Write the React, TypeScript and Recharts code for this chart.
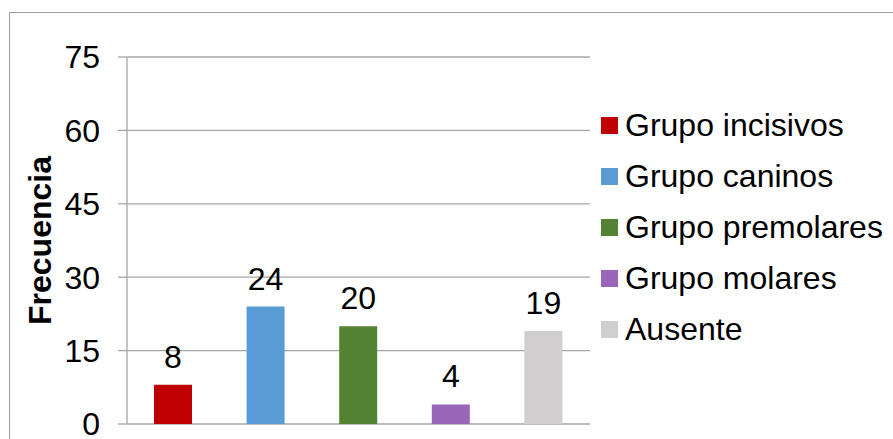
import React from 'react';
import { BarChart, Bar, XAxis, YAxis, CartesianGrid, Cell, LabelList, Legend } from 'recharts';

const categories = ['Grupo incisivos', 'Grupo caninos', 'Grupo premolares', 'Grupo molares', 'Ausente'];
const frecuencias = [8, 24, 20, 4, 19];
const colors = ['#C00000', '#5B9BD5', '#548235', '#9966BB', '#D0CECE'];
const yTicks = [0, 15, 30, 45, 60, 75];

const data = categories.map((name, i) => ({ name, value: frecuencias[i] }));

const FONT = '"Liberation Sans", Arial, sans-serif';
const FS = 32;
const GRID = '#a6a6a6';

const renderLegend = () => (
  <div style={{ fontFamily: FONT, fontSize: FS, color: '#000' }}>
    {categories.map((c, i) => (
      <div key={c} style={{ display: 'flex', alignItems: 'center', height: 51 }}>
        <span style={{ display: 'inline-block', width: 17, height: 17, background: colors[i], marginRight: 7 }} />
        <span style={{ lineHeight: '51px', whiteSpace: 'nowrap' }}>{c}</span>
      </div>
    ))}
  </div>
);

const renderYLabel = (props: any) => {
  const vb = props.viewBox || {};
  const x = vb.x + 24;
  const y = vb.y + vb.height / 2;
  return (
    <text
      x={x}
      y={y}
      transform={`rotate(-90, ${x}, ${y})`}
      textAnchor="middle"
      fontFamily={FONT}
      fontSize={32}
      fontWeight="bold"
      fill="#000"
    >
      Frecuencia
    </text>
  );
};

export default function App() {
  return (
    <div style={{ position: 'fixed', left: 0, top: 0, width: 893, height: 439, overflow: 'hidden', background: '#fff' }}>
      <div
        style={{
          position: 'absolute',
          left: 9,
          top: 12,
          width: 900,
          height: 450,
          border: '1px solid #a0a0a0',
        }}
      />
      <div style={{ position: 'absolute', left: 0, top: 0 }}>
        <BarChart
          width={893}
          height={439}
          data={data}
          margin={{ top: 57, right: 303, bottom: 15, left: 27 }}
          barCategoryGap={0}
        >
          <CartesianGrid vertical={false} stroke={GRID} strokeWidth={1.3} />
          <XAxis dataKey="name" tick={false} tickLine={false} height={0} axisLine={{ stroke: GRID, strokeWidth: 1.3 }} />
          <YAxis
            width={100}
            domain={[0, 75]}
            ticks={yTicks}
            interval={0}
            tickSize={9}
            tickMargin={18}
            axisLine={{ stroke: GRID, strokeWidth: 1.3 }}
            tickLine={{ stroke: GRID, strokeWidth: 1.3 }}
            tick={{ fill: '#000', fontSize: FS, fontFamily: FONT }}
            label={renderYLabel}
          />
          <Legend
            layout="horizontal"
            verticalAlign="middle"
            align="center"
            content={renderLegend}
            wrapperStyle={{ position: 'absolute', left: 601, top: 100, width: 292 }}
          />
          <Bar dataKey="value" barSize={38} isAnimationActive={false}>
            {data.map((d, i) => (
              <Cell key={d.name} fill={colors[i]} />
            ))}
            <LabelList dataKey="value" position="top" offset={17} fill="#000" fontSize={FS} fontFamily={FONT} />
          </Bar>
        </BarChart>
      </div>
    </div>
  );
}
